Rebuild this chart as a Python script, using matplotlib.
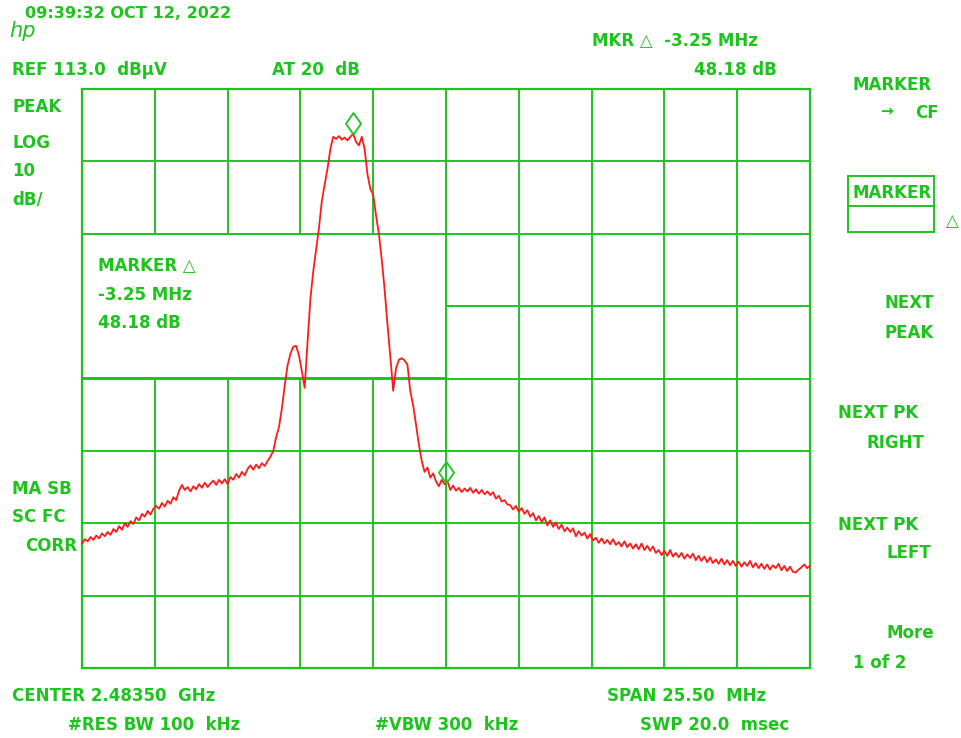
import numpy as np
import matplotlib
matplotlib.use("Agg")
import matplotlib.pyplot as plt
from matplotlib.patches import Rectangle
from matplotlib.path import Path

# ---------------- data ----------------
CENTER_GHZ = 2.48350
SPAN_MHZ = 25.50
REF_LEVEL = 113.0          # dBuV, top of screen
DB_PER_DIV = 10.0
N_XDIV, N_YDIV = 10, 8

# trace level (dBuV) at each sweep point, left -> right
level_left = [50.2, 50.8, 50.5, 51.1, 50.7, 51.3, 50.9, 51.6, 51.2, 51.8,
              51.4, 52.2, 51.8, 52.6, 52.1, 53.0, 52.5, 53.3, 52.9, 53.8,
              53.4, 54.3, 53.9, 54.7, 54.2, 55.0, 55.4, 55.0, 55.8, 55.3,
              56.1, 55.7, 56.6, 56.2, 57.5, 58.3, 57.6, 58.0, 57.4, 58.1,
              57.7, 58.4, 57.9, 58.6, 58.0, 58.5, 58.9, 58.3, 59.0, 58.5,
              59.1, 58.4, 59.4, 59.0, 59.8, 59.3, 60.1, 59.6, 60.5, 61.0,
              60.4, 61.1, 60.6, 61.3, 60.9, 61.6, 62.2, 63.0]
level_signal = [64.9, 66.3, 68.8, 72.0, 74.8, 76.4, 77.4, 77.5, 76.2, 74.0,
                71.7, 78.0, 84.0, 87.8, 90.8, 93.8, 97.5, 99.8, 102.0, 104.7,
                106.4, 106.1, 106.5, 106.0, 106.3, 105.9, 106.4, 106.8, 105.7, 105.2,
                106.4, 104.7, 101.2, 99.2, 98.4, 95.5, 93.0, 89.4, 85.3, 80.5,
                76.0, 71.3, 74.4, 75.6, 75.8, 75.5, 74.9, 71.2, 69.3, 66.6,
                63.9, 61.6, 60.1, 60.7, 59.3, 59.9, 58.8, 58.1, 59.0, 58.4,
                58.8]
level_right = [57.6, 58.2, 57.5, 57.9, 57.3, 57.8, 57.4, 57.9, 57.2, 57.7,
               57.1, 57.6, 57.0, 57.4, 56.9, 57.3, 56.4, 56.8, 56.0, 56.2,
               55.6, 55.5, 54.9, 55.4, 54.6, 55.1, 54.3, 54.8, 53.9, 54.4,
               53.4, 54.0, 53.2, 53.8, 52.7, 53.4, 52.5, 53.1, 52.2, 52.8,
               51.9, 52.4, 51.8, 52.3, 51.2, 51.9, 51.3, 51.7, 50.9, 51.5,
               50.6, 51.0, 50.3, 50.9, 50.2, 50.7, 50.1, 50.8, 50.0, 50.4,
               49.8, 50.5, 49.7, 50.2, 49.5, 50.1, 49.4, 50.2, 49.3, 49.9,
               49.2, 49.8, 48.9, 49.3, 48.6, 49.2, 48.5, 49.3, 48.4, 48.9,
               48.3, 48.9, 48.1, 48.7, 48.2, 48.8, 47.9, 48.5, 47.8, 48.4,
               47.6, 48.3, 47.5, 48.0, 47.4, 48.1, 47.3, 47.9, 47.2, 47.8,
               47.1, 47.7, 47.0, 47.6, 47.1, 47.8, 46.9, 47.5, 46.8, 47.4,
               46.7, 47.3, 46.6, 47.2, 46.8, 47.4, 46.5, 47.1, 46.4, 47.0,
               46.3, 46.2, 46.6, 46.9, 47.3, 46.8, 47.1]
level = level_left + level_signal + level_right

# markers: delta marker on the peak, reference marker at center
marker_freq = [-3.25, 0.00]        # MHz offset from center
marker_level = [106.8, 58.62]      # dBuV

# screen annotations
header_time = "09:39:32 OCT 12, 2022"
ref_text = "REF 113.0  dB\u00b5V"
atten_text = "AT 20  dB"
mkr_text = "MKR \u25b3  -3.25 MHz"
mkr_db_text = "48.18 dB"
left_labels = ["PEAK", "LOG", "10", "dB/"]
left_labels2 = ["MA SB", "SC FC", "CORR"]
box_labels = ["MARKER \u25b3", "-3.25 MHz", "48.18 dB"]
bottom_row1 = ["CENTER 2.48350  GHz", "SPAN 25.50  MHz"]
bottom_row2 = ["#RES BW 100  kHz", "#VBW 300  kHz", "SWP 20.0  msec"]

# ---------------- figure ----------------
W, H = 962, 738
GREEN = "#1ec41e"
RED = "#ff1a1a"
FONT = ["DejaVu Sans"]

fig = plt.figure(figsize=(W / 100, H / 100), dpi=100)
fig.patch.set_facecolor("white")

def fx(px):
    return px / W

def fy(py):
    return 1 - py / H

def label(px, py, s, ha="left", size=12, **kw):
    fig.text(fx(px), fy(py), s, ha=ha, va="center", color=GREEN, fontsize=size,
             fontweight="bold", family=FONT, **kw)

ax = fig.add_axes([fx(82), fy(668), (810 - 82) / W, (668 - 89) / H])
half = SPAN_MHZ / 2
bottom_level = REF_LEVEL - N_YDIV * DB_PER_DIV
ax.set_xlim(-half, half)
ax.set_ylim(bottom_level, REF_LEVEL)
ax.set_xticks(np.linspace(-half, half, N_XDIV + 1))
ax.set_yticks(np.arange(bottom_level, REF_LEVEL + 0.1, DB_PER_DIV))
ax.tick_params(length=0, labelbottom=False, labelleft=False)
ax.grid(True, color=GREEN, linewidth=1.4)
ax.set_axisbelow(True)
for sp in ax.spines.values():
    sp.set_color(GREEN)
    sp.set_linewidth(1.6)

# blanked annotation area (left half, rows 3-4)
ax.add_patch(Rectangle((-half, REF_LEVEL - 4 * DB_PER_DIV), half, 2 * DB_PER_DIV,
                       facecolor="white", edgecolor=GREEN, linewidth=1.4, zorder=1))

freq = np.linspace(-half, half, len(level))
ax.plot(freq, level, color=RED, linewidth=1.3, zorder=3, clip_on=False)

diamond = Path([(0, 0), (0.7, 1), (0, 2), (-0.7, 1), (0, 0)],
               [Path.MOVETO, Path.LINETO, Path.LINETO, Path.LINETO, Path.CLOSEPOLY])
ax.plot(marker_freq, marker_level, linestyle="none", marker=diamond, markersize=31,
        markerfacecolor="none", markeredgecolor=GREEN, markeredgewidth=1.3, zorder=4)

# ---------------- texts ----------------
fig.text(fx(9), fy(31), "hp", color=GREEN, fontsize=15, style="italic",
         family="DejaVu Sans", ha="left", va="center")
label(25, 13, header_time, size=11.6)
label(12, 70, ref_text)
label(272, 70, atten_text)
label(592, 41, mkr_text)
label(777, 70, mkr_db_text, ha="right")

for s, py in zip(left_labels, [107, 143, 171, 200]):
    label(12, py, s)
label(12, 489, left_labels2[0])
label(12, 517, left_labels2[1])
label(25, 546, left_labels2[2])

for s, py in zip(box_labels, [266, 295, 323]):
    label(98, py, s)

label(12, 696, bottom_row1[0])
label(607, 696, bottom_row1[1])
label(68, 725, bottom_row2[0])
label(375, 725, bottom_row2[1])
label(640, 725, bottom_row2[2])

# softkey panel
label(853, 85, "MARKER")
label(880, 111, "\u2192", size=11)
label(915, 113, "CF")
fig.add_artist(Rectangle((fx(848), fy(232)), (934 - 848) / W, (232 - 176) / H,
                         transform=fig.transFigure, facecolor="none",
                         edgecolor=GREEN, linewidth=1.4))
fig.add_artist(plt.Line2D([fx(848), fx(934)], [fy(206), fy(206)],
                          transform=fig.transFigure, color=GREEN, linewidth=1.4))
label(853, 193, "MARKER")
label(946, 221, "\u25b3")
label(934, 303, "NEXT", ha="right")
label(934, 333, "PEAK", ha="right")
label(838, 413, "NEXT PK")
label(924, 443, "RIGHT", ha="right")
label(838, 525, "NEXT PK")
label(931, 553, "LEFT", ha="right")
label(934, 633, "More", ha="right")
label(853, 663, "1 of 2")

fig.savefig("out.png", dpi=100, facecolor="white")
